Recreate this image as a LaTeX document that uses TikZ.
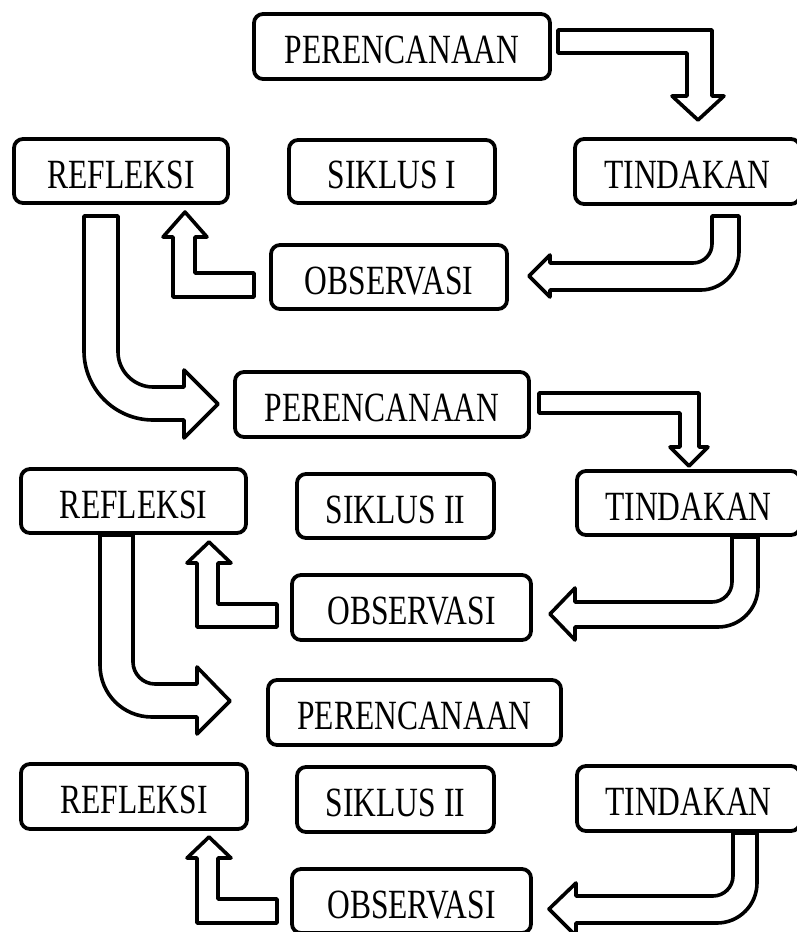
\documentclass[tikz,border=0pt]{standalone}
\usepackage{graphicx}
\usepackage{fontspec}
\setmainfont{Liberation Serif}
\newfontfamily\boxfont{Liberation Serif}
\newcommand{\bxtext}[1]{\raisebox{-3.5pt}[\height][0pt]{\scalebox{1}[1.32]{#1}}}
\begin{document}
\begin{tikzpicture}[x=1pt,y=-1pt,
  box/.style={draw, line width=3.8pt, rounded corners=9pt, inner sep=0pt,
    font=\boxfont\fontsize{31.5}{36}\selectfont},
  barrow/.style={draw, line width=3.6pt, fill=white, line join=round}]
\useasboundingbox (0,0) rectangle (797,932);
% ---------- cycle 1 ----------
\node[box, minimum width=296pt, minimum height=65pt] (p1) at (402,46.5) {\bxtext{PERENCANAAN}};
\node[box, minimum width=214pt, minimum height=64pt] (r1) at (121,171) {\bxtext{REFLEKSI}};
\node[box, minimum width=206pt, minimum height=63pt] (s1) at (392,171.5) {\bxtext{SIKLUS I}};
\node[box, minimum width=225pt, minimum height=65pt] (t1) at (687.5,171.5) {\bxtext{TINDAKAN}};
\node[box, minimum width=236pt, minimum height=64pt] (o1) at (389,277) {\bxtext{OBSERVASI}};
% P1 -> T1
\draw[barrow] (558,30) -- (712,30) -- (712,96) -- (724,96) -- (698,120) -- (672,96)
  -- (687,96) -- (687,53) -- (558,53) -- cycle;
% T1 -> O1
\draw[barrow] (712,216) -- (739,216) -- (739,252) .. controls (739,273) and (721,290) .. (701,290)
  -- (550,290) -- (550,297) -- (529,276) -- (550,255) -- (550,263) -- (693,263)
  .. controls (704,263) and (712,254) .. (712,244) -- cycle;
% O1 -> R1
\draw[barrow] (254,273) -- (254,297) -- (173,297) -- (173,237) -- (163,237) -- (185,212)
  -- (207,237) -- (195,237) -- (195,273) -- cycle;
% R1 -> P2
\draw[barrow] (84,216) -- (118,216) -- (118,352) .. controls (118,371) and (134,387) .. (153,387)
  -- (184,387) -- (184,370) -- (218,404) -- (184,438) -- (184,420) -- (153,420)
  .. controls (115,420) and (84,389) .. (84,351) -- cycle;
% ---------- cycle 2 ----------
\node[box, minimum width=294pt, minimum height=65pt] (p2) at (382,404.5) {\bxtext{PERENCANAAN}};
\node[box, minimum width=225pt, minimum height=64pt] (r2) at (133.5,501) {\bxtext{REFLEKSI}};
\node[box, minimum width=197pt, minimum height=64pt] (s2) at (395.5,506) {\bxtext{SIKLUS II}};
\node[box, minimum width=223pt, minimum height=64pt] (t2) at (688.5,503) {\bxtext{TINDAKAN}};
\node[box, minimum width=239pt, minimum height=65pt] (o2) at (411.5,607.5) {\bxtext{OBSERVASI}};
% P2 -> T2
\draw[barrow] (539,393) -- (699,393) -- (699,447) -- (708,447) -- (689,466) -- (670,447)
  -- (680,447) -- (680,413) -- (539,413) -- cycle;
% T2 -> O2
\draw[barrow] (732,537) -- (758,537) -- (758,587) .. controls (758,609) and (740,627) .. (718,627)
  -- (575,627) -- (575,640) -- (550,614) -- (575,588) -- (575,602) -- (712,602)
  .. controls (723,602) and (732,593) .. (732,582) -- cycle;
% O2 -> R2
\draw[barrow] (277,604) -- (277,627) -- (197,627) -- (197,563) -- (187,563) -- (209,542)
  -- (231,563) -- (218,563) -- (218,604) -- cycle;
% R2 -> P3
\draw[barrow] (100,535) -- (133,535) -- (133,662) .. controls (133,674) and (143,684) .. (155,684)
  -- (197,684) -- (197,667) -- (230,701) -- (197,734) -- (197,717) -- (152,717)
  .. controls (123,717) and (100,694) .. (100,665) -- cycle;
% ---------- cycle 3 ----------
\node[box, minimum width=293pt, minimum height=65pt] (p3) at (414.5,712.5) {\bxtext{PERENCANAAN}};
\node[box, minimum width=226pt, minimum height=65pt] (r3) at (134,796.5) {\bxtext{REFLEKSI}};
\node[box, minimum width=197pt, minimum height=65pt] (s3) at (395.5,799.5) {\bxtext{SIKLUS II}};
\node[box, minimum width=223pt, minimum height=65pt] (t3) at (688.5,798.5) {\bxtext{TINDAKAN}};
\node[box, minimum width=239pt, minimum height=64pt] (o3) at (411.5,901) {\bxtext{OBSERVASI}};
% T3 -> O3
\draw[barrow] (733,833) -- (757,833) -- (757,883) .. controls (757,905) and (739,923) .. (717,923)
  -- (576,923) -- (576,936) -- (549,909) -- (576,883) -- (576,896) -- (713,896)
  .. controls (724,896) and (733,887) .. (733,876) -- cycle;
% O3 -> R3
\draw[barrow] (277,899) -- (277,923) -- (197,923) -- (197,858) -- (187,858) -- (209,837)
  -- (231,858) -- (218,858) -- (218,899) -- cycle;
\end{tikzpicture}
\end{document}
